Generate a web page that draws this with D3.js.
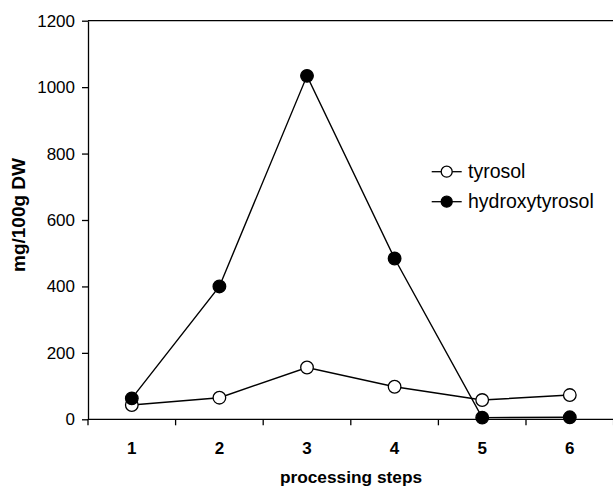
<!DOCTYPE html>
<html>
<head>
<meta charset="utf-8">
<script src="https://cdn.jsdelivr.net/npm/d3@7"></script>
<style>
html,body{margin:0;padding:0;background:#fff;}
svg{display:block;}
text{font-family:Arial,"Liberation Sans",Helvetica,sans-serif;fill:#000;}
</style>
</head>
<body>
<svg id="chart" width="613" height="489"></svg>
<script>
const categories = ["1","2","3","4","5","6"];
const tyrosol = [43, 65, 156, 98, 58, 73];
const hydroxytyrosol = [63, 400, 1034, 484, 5, 6];
const yTicks = [0, 200, 400, 600, 800, 1000, 1200];
const seriesNames = ["tyrosol", "hydroxytyrosol"];

const svg = d3.select("#chart");
const plotLeft = 88, plotRight = 613.6, plotTop = 20.7, plotBottom = 419.3;

const x = d3.scalePoint().domain(categories).range([plotLeft, plotRight]).padding(0.5);
const step = x.step();
const y = d3.scaleLinear().domain([0, 1200]).range([plotBottom, plotTop]);

// top border
svg.append("line").attr("x1", plotLeft).attr("x2", 613).attr("y1", y(1200)).attr("y2", y(1200))
  .attr("stroke", "#000").attr("stroke-width", 1.3);

// y axis
const yAxis = svg.append("g").attr("transform", `translate(${plotLeft},0)`)
  .call(d3.axisLeft(y).tickValues(yTicks).tickFormat(d3.format("d")).tickSize(6).tickPadding(7).tickSizeOuter(0));
yAxis.select(".domain").attr("stroke-width", 1.3);
yAxis.selectAll(".tick line").attr("stroke-width", 1.3);
yAxis.selectAll(".tick text").style("font-size", "17px").attr("font-family", null);

// x axis: line, boundary ticks, category labels
const boundaries = d3.range(categories.length + 1).map(i => x(categories[0]) - step / 2 + i * step);
const xg = svg.append("g");
xg.append("line").attr("x1", plotLeft).attr("x2", 613).attr("y1", plotBottom).attr("y2", plotBottom)
  .attr("stroke", "#000").attr("stroke-width", 1.3);
xg.selectAll("line.tk").data(boundaries).join("line").attr("class", "tk")
  .attr("x1", d => d).attr("x2", d => d).attr("y1", plotBottom).attr("y2", plotBottom + 6)
  .attr("stroke", "#000").attr("stroke-width", 1.3);
xg.selectAll("text").data(categories).join("text")
  .attr("x", d => x(d)).attr("y", 454).attr("text-anchor", "middle")
  .style("font-size", "17px").style("font-weight", "bold").text(d => d);

// axis titles
svg.append("text").attr("x", 351).attr("y", 483).attr("text-anchor", "middle")
  .style("font-size", "17.3px").style("font-weight", "bold").text("processing steps");
svg.append("text").attr("transform", "translate(24.5,215) rotate(-90)").attr("text-anchor", "middle")
  .style("font-size", "19px").style("font-weight", "bold").text("mg/100g DW");

// series
const line = d3.line().x((d, i) => x(categories[i])).y(d => y(d));
function drawSeries(vals, fill) {
  svg.append("path").datum(vals).attr("d", line).attr("fill", "none")
    .attr("stroke", "#000").attr("stroke-width", 1.4);
  svg.append("g").selectAll("circle").data(vals).join("circle")
    .attr("cx", (d, i) => x(categories[i])).attr("cy", d => y(d)).attr("r", 6.3)
    .attr("fill", fill).attr("stroke", "#000").attr("stroke-width", 1.3);
}
drawSeries(tyrosol, "#fff");
drawSeries(hydroxytyrosol, "#000");

// legend
const legend = svg.append("g");
const fills = ["#fff", "#000"];
seriesNames.forEach((name, i) => {
  const cy = 171.7 + i * 30;
  legend.append("line").attr("x1", 431.7).attr("x2", 461.7).attr("y1", cy).attr("y2", cy)
    .attr("stroke", "#000").attr("stroke-width", 1.3);
  legend.append("circle").attr("cx", 446.7).attr("cy", cy).attr("r", 5.5)
    .attr("fill", fills[i]).attr("stroke", "#000").attr("stroke-width", 1.3);
  legend.append("text").attr("x", 468).attr("y", cy + 6.2)
    .style("font-size", "19.5px").text(name);
});
</script>
</body>
</html>
